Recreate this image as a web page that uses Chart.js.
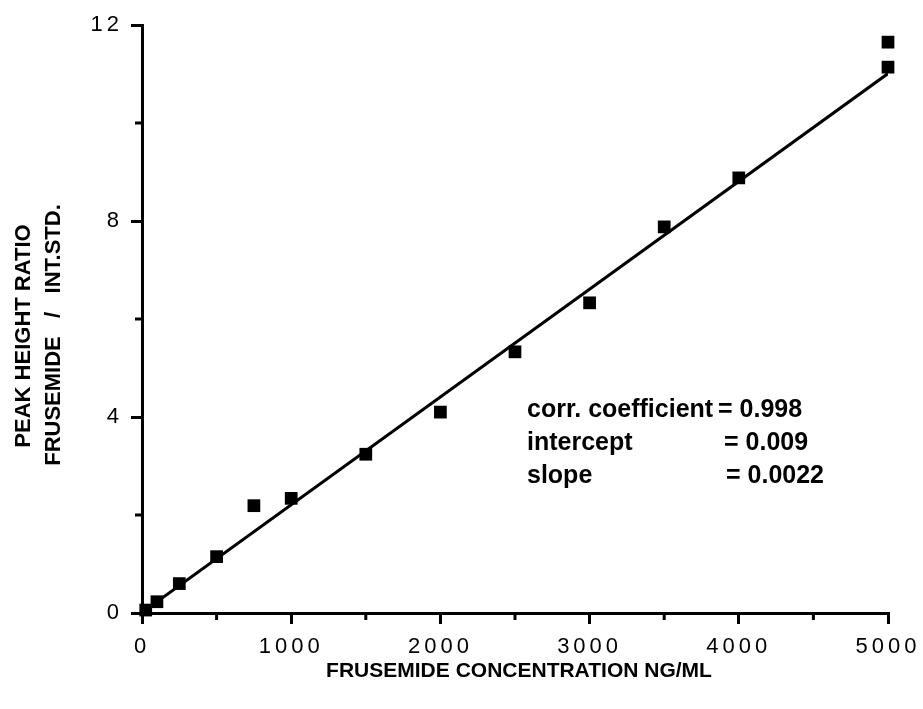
<!DOCTYPE html>
<html>
<head>
<meta charset="utf-8">
<script src="https://cdn.jsdelivr.net/npm/chart.js@4/dist/chart.umd.min.js"></script>
<style>
  body { margin: 0; background: #fff; }
</style>
</head>
<body>
<canvas id="myChart" width="923" height="709"></canvas>
<script>
// Frusemide standards (ng/ml) against peak height ratio frusemide / int.std.
var concentrations = [25, 100, 250, 500, 750, 1000, 1500, 2000, 2500, 3000, 3500, 4000, 5000, 5000]
var ratios = [0.06, 0.23, 0.60, 1.15, 2.19, 2.34, 3.24, 4.10, 5.33, 6.33, 7.88, 8.88, 11.14, 11.65]

// regression results
var corrCoefficient = 0.998
var intercept = 0.009
var slope = 0.0022
var fitRange = [0, 5000]

// axis ticks
var xTicks = [0, 1000, 2000, 3000, 4000, 5000]
var xMinorTicks = [500, 1500, 2500, 3500, 4500]
var yTicks = [0, 4, 8, 12]
var yMinorTicks = [2, 6, 10]

var fontFamily = "'Liberation Sans', Arial, Helvetica, sans-serif"
Chart.defaults.font.family = fontFamily
Chart.defaults.color = '#000'

// minor tick marks, axis titles and the regression summary
const extras = {
  id: 'extras',
  beforeDraw(chart) {
    // tick numbers are spaced out
    chart.ctx.letterSpacing = '4px'
  },
  afterDraw(chart) {
    const ctx = chart.ctx
    const xs = chart.scales.x
    const ys = chart.scales.y
    ctx.save()
    ctx.letterSpacing = '0px'
    ctx.strokeStyle = '#000'
    ctx.lineWidth = 3
    ctx.beginPath()
    xMinorTicks.forEach(v => {
      let px = xs.getPixelForValue(v)
      ctx.moveTo(px, ys.bottom)
      ctx.lineTo(px, ys.bottom + 7)
    })
    yMinorTicks.forEach(v => {
      let py = ys.getPixelForValue(v)
      ctx.moveTo(xs.left, py)
      ctx.lineTo(xs.left - 7, py)
    })
    ctx.stroke()

    ctx.fillStyle = '#000'
    ctx.textBaseline = 'middle'

    // x title
    ctx.font = 'bold 21px ' + fontFamily
    ctx.textAlign = 'center'
    ctx.fillText('FRUSEMIDE CONCENTRATION NG/ML', 519, 671)

    // y title, two lines
    ctx.save()
    ctx.font = 'bold 22px ' + fontFamily
    ctx.translate(24, 336)
    ctx.rotate(-Math.PI / 2)
    ctx.fillText('PEAK HEIGHT RATIO', 0, 0)
    ctx.restore()
    ctx.save()
    ctx.font = 'bold 22px ' + fontFamily
    ctx.translate(54, 335)
    ctx.rotate(-Math.PI / 2)
    ctx.fillText('FRUSEMIDE   /   INT.STD.', 0, 0)
    ctx.restore()

    // regression summary
    ctx.font = 'bold 25px ' + fontFamily
    ctx.textAlign = 'left'
    ctx.fillText('corr. coefficient', 527, 410)
    ctx.fillText('= ' + corrCoefficient, 718, 410)
    ctx.fillText('intercept', 527, 443)
    ctx.fillText('= ' + intercept, 724, 443)
    ctx.fillText('slope', 527, 476)
    ctx.fillText('= ' + slope, 726, 476)
    ctx.restore()
  }
}

const axisGrid = {
  drawOnChartArea: false,
  drawTicks: true,
  tickLength: 11,
  color: '#000',
  lineWidth: 3
}

new Chart('myChart', {
  type: 'scatter',
  data: {
    datasets: [{
      data: concentrations.map((c, i) => ({x: c, y: ratios[i]})),
      pointStyle: 'rect',
      pointRadius: 9,
      pointHoverRadius: 9,
      backgroundColor: '#000',
      borderColor: '#000',
      borderWidth: 0,
      clip: false
    }, {
      type: 'line',
      data: fitRange.map(c => ({x: c, y: intercept + slope * c})),
      borderColor: '#000',
      borderWidth: 3,
      pointRadius: 0,
      fill: false
    }]
  },
  options: {
    responsive: false,
    animation: false,
    devicePixelRatio: 1,
    layout: {padding: {left: 0, top: 25, right: 35, bottom: 0}},
    plugins: {
      legend: {display: false},
      tooltip: {enabled: false}
    },
    scales: {
      x: {
        type: 'linear',
        min: 0,
        max: 5000,
        afterBuildTicks: axis => { axis.ticks = xTicks.map(v => ({value: v})) },
        afterFit: axis => { axis.height = 96 },
        grid: axisGrid,
        border: {display: true, color: '#000', width: 3},
        ticks: {font: {size: 22}, color: '#000', padding: 10, maxRotation: 0, callback: v => String(v)}
      },
      y: {
        type: 'linear',
        min: 0,
        max: 12,
        afterBuildTicks: axis => { axis.ticks = yTicks.map(v => ({value: v})) },
        afterFit: axis => { axis.width = 142 },
        grid: axisGrid,
        border: {display: true, color: '#000', width: 3},
        ticks: {font: {size: 22}, color: '#000', padding: 8, callback: v => String(v)}
      }
    }
  },
  plugins: [extras]
})
</script>
</body>
</html>
